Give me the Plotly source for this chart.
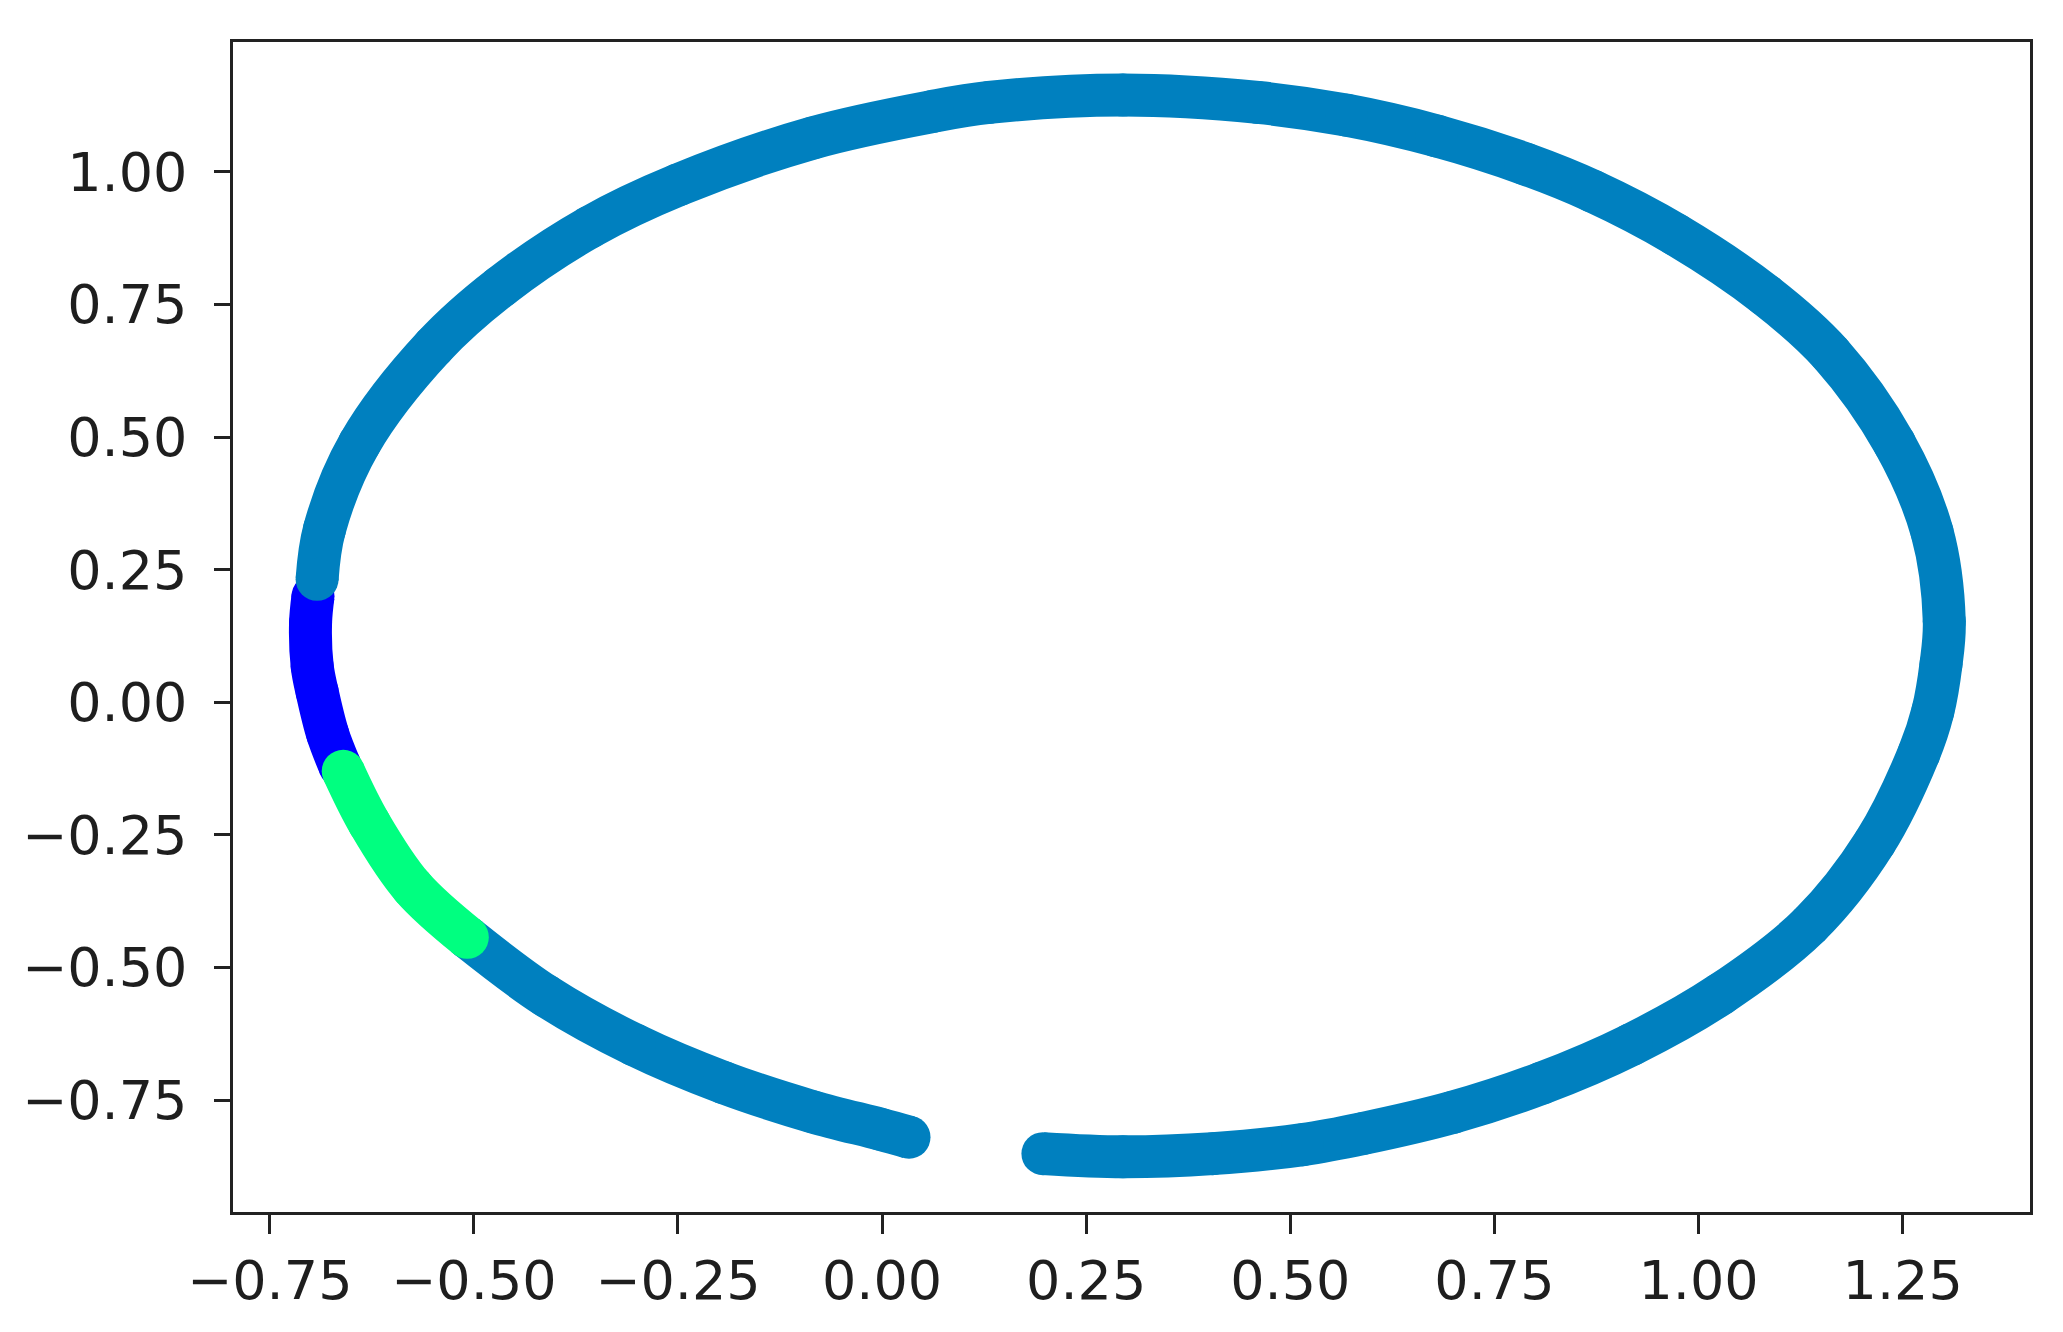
import plotly.graph_objects as go

# Points read along the trajectory (data units)
main_upper_x = [0.197, 0.295, 0.405, 0.515, 0.589, 0.699, 0.808, 0.918, 1.027, 1.136,
                1.216, 1.270, 1.287, 1.297, 1.301, 1.286, 1.240, 1.162, 1.082, 0.972,
                0.870, 0.788, 0.679, 0.569, 0.460, 0.295, 0.131, 0.062, -0.085, -0.249,
                -0.358, -0.467, -0.549, -0.640, -0.683, -0.692]
main_upper_y = [-0.851, -0.857, -0.851, -0.834, -0.813, -0.773, -0.718, -0.645, -0.550, -0.420,
                -0.264, -0.096, -0.017, 0.072, 0.153, 0.321, 0.488, 0.657, 0.768, 0.882,
                0.964, 1.015, 1.068, 1.107, 1.131, 1.145, 1.131, 1.114, 1.064, 0.976,
                0.896, 0.784, 0.671, 0.488, 0.326, 0.232]

blue_x = [-0.697, -0.700, -0.698, -0.692, -0.679, -0.664]
blue_y = [0.200, 0.150, 0.068, 0.020, -0.060, -0.120]

green_x = [-0.660, -0.628, -0.575, -0.508]
green_y = [-0.130, -0.228, -0.349, -0.443]

main_lower_x = [-0.508, -0.412, -0.303, -0.194, -0.085, -0.002, 0.033]
main_lower_y = [-0.443, -0.553, -0.646, -0.717, -0.772, -0.805, -0.820]

x_tick_vals = [-0.75, -0.50, -0.25, 0.00, 0.25, 0.50, 0.75, 1.00, 1.25]
x_tick_text = ["\u22120.75", "\u22120.50", "\u22120.25", "0.00", "0.25", "0.50", "0.75", "1.00", "1.25"]
y_tick_vals = [-0.75, -0.50, -0.25, 0.00, 0.25, 0.50, 0.75, 1.00]
y_tick_text = ["\u22120.75", "\u22120.50", "\u22120.25", "0.00", "0.25", "0.50", "0.75", "1.00"]

MAIN = "#0080bf"
BLUE = "#0000ff"
GREEN = "#00ff80"
W = 43

fig = go.Figure()


def band(xs, ys, color):
    fig.add_trace(go.Scatter(
        x=xs, y=ys, mode="lines+markers",
        line=dict(color=color, width=W, shape="spline", smoothing=1.0),
        marker=dict(color=color, size=W, line=dict(width=0)),
        showlegend=False, hoverinfo="skip",
    ))


band(blue_x, blue_y, BLUE)
band(main_upper_x, main_upper_y, MAIN)
band(main_lower_x, main_lower_y, MAIN)
band(green_x, green_y, GREEN)

axis_common = dict(
    showgrid=False, zeroline=False, showline=True, linecolor="#222222", linewidth=2.5,
    mirror=True, ticks="outside", tickcolor="#222222", tickwidth=2.5,
    tickfont=dict(family="DejaVu Sans", size=54, color="#1e1e1e"),
)

fig.update_layout(
    width=2063, height=1332,
    margin=dict(l=225, r=41, t=34, b=128),
    paper_bgcolor="white", plot_bgcolor="white",
    xaxis=dict(range=[-0.795, 1.406], tickvals=x_tick_vals, ticktext=x_tick_text,
               ticklen=19, ticklabelstandoff=0, **axis_common),
    yaxis=dict(range=[-0.961, 1.245], tickvals=y_tick_vals, ticktext=y_tick_text,
               ticklen=16, ticklabelstandoff=16, **axis_common),
)

fig.write_html("out.html")
